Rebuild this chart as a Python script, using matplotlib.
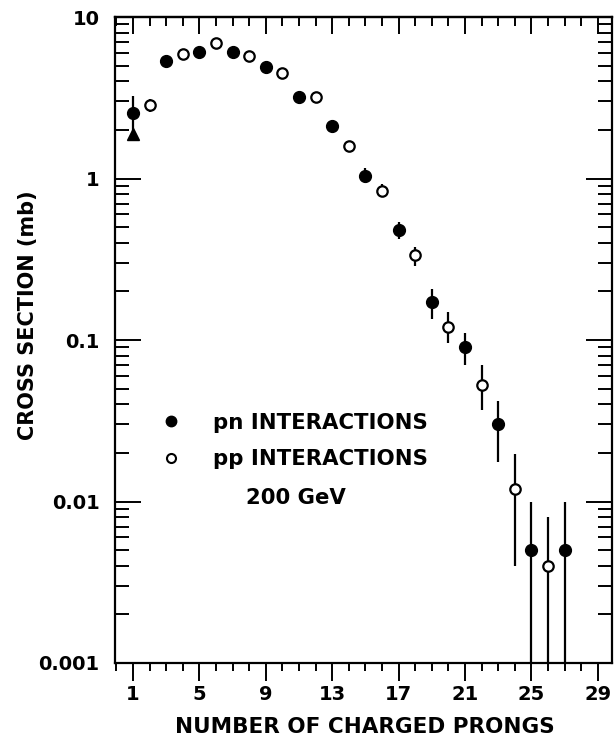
import matplotlib
matplotlib.use("Agg")
import matplotlib.pyplot as plt
from matplotlib.lines import Line2D
from matplotlib.ticker import MultipleLocator, LogLocator, FixedLocator, FixedFormatter, NullFormatter

# pn interactions (filled circles), lower / upper ends of the error bars
pn_prongs = [1, 3, 5, 7, 9, 11, 13, 15, 17, 19, 21, 23, 25, 27]
pn_sigma = [2.55, 5.35, 6.05, 6.05, 4.9, 3.2, 2.1, 1.03, 0.48, 0.172, 0.091, 0.030, 0.005, 0.005]
pn_low = [1.9, 5.35, 6.05, 6.05, 4.9, 3.2, 2.1, 0.94, 0.422, 0.135, 0.070, 0.0176, 0.0001, 0.0001]
pn_high = [3.26, 5.35, 6.05, 6.05, 4.9, 3.2, 2.1, 1.16, 0.538, 0.2055, 0.111, 0.042, 0.01, 0.01]

# pp interactions (open circles)
pp_prongs = [2, 4, 6, 8, 10, 12, 14, 16, 18, 20, 22, 24, 26]
pp_sigma = [2.85, 5.9, 6.9, 5.7, 4.5, 3.2, 1.6, 0.84, 0.336, 0.121, 0.053, 0.012, 0.004]
pp_low = [2.6, 5.9, 6.9, 5.7, 4.5, 3.2, 1.6, 0.77, 0.287, 0.096, 0.037, 0.004, 0.0001]
pp_high = [3.1, 5.9, 6.9, 5.7, 4.5, 3.2, 1.6, 0.925, 0.377, 0.149, 0.070, 0.0197, 0.008]

# single triangle point at 1 prong
tri_prongs = [1]
tri_sigma = [1.9]

x_major = [1, 5, 9, 13, 17, 21, 25, 29]
y_ticks = [0.001, 0.01, 0.1, 1, 10]
y_tick_labels = ["0.001", "0.01", "0.1", "1", "10"]

plt.rcParams["font.family"] = "DejaVu Sans"
plt.rcParams["font.weight"] = "bold"

fig = plt.figure(figsize=(6.16, 7.5), dpi=100)
ax = fig.add_axes([0.1867, 0.116, 0.8068, 0.8613])


def yerr(vals, lo, hi):
    return [[v - l for v, l in zip(vals, lo)], [h - v for v, h in zip(vals, hi)]]


ax.errorbar(pn_prongs, pn_sigma, yerr=yerr(pn_sigma, pn_low, pn_high), fmt="o",
            color="black", ms=8.5, elinewidth=1.6, capsize=0, zorder=3)
ax.errorbar(pp_prongs, pp_sigma, yerr=yerr(pp_sigma, pp_low, pp_high), fmt="o",
            color="black", mfc="white", ms=7.5, mew=1.6, elinewidth=1.6, capsize=0, zorder=3)
ax.plot(tri_prongs, tri_sigma, "^", color="black", ms=8.5, zorder=4)

ax.set_yscale("log")
ax.set_ylim(0.001, 10)
ax.set_xlim(-0.08, 29.85)

for s in ax.spines.values():
    s.set_linewidth(1.6)

# y axis: ticks inside on both sides
ax.yaxis.set_major_locator(FixedLocator(y_ticks))
ax.yaxis.set_major_formatter(FixedFormatter(y_tick_labels))
ax.yaxis.set_minor_locator(LogLocator(base=10, subs=range(2, 10)))
ax.yaxis.set_minor_formatter(NullFormatter())
ax.tick_params(axis="y", which="both", direction="in", left=True, right=True, width=1.4)
ax.tick_params(axis="y", which="major", length=19, pad=11, labelsize=14)
ax.tick_params(axis="y", which="minor", length=10)

# x axis: bottom ticks outside, top ticks inside
ax.xaxis.set_major_locator(FixedLocator(x_major))
ax.xaxis.set_minor_locator(MultipleLocator(1))
ax.tick_params(axis="x", which="both", direction="out", top=False, bottom=True, width=1.4)
ax.tick_params(axis="x", which="major", length=13, pad=3, labelsize=14)
ax.tick_params(axis="x", which="minor", length=6)

top = ax.secondary_xaxis("top")
top.xaxis.set_major_locator(FixedLocator(x_major))
top.xaxis.set_minor_locator(MultipleLocator(1))
top.tick_params(which="both", direction="in", labeltop=False, width=1.4)
top.tick_params(which="major", length=12)
top.tick_params(which="minor", length=6.5)
top.spines["top"].set_linewidth(1.6)

ax.set_xlabel("NUMBER OF CHARGED PRONGS", fontsize=15.5, fontweight="bold")
ax.xaxis.set_label_coords(0.503, -0.083)
ax.set_ylabel("CROSS SECTION (mb)", fontsize=15, fontweight="bold")
ax.yaxis.set_label_coords(-0.155, 0.539)

handles = [
    Line2D([], [], ls="none", marker="o", color="black", ms=7.5),
    Line2D([], [], ls="none", marker="o", color="black", mfc="white", ms=6.5, mew=1.5),
]
ax.legend(handles, ["pn INTERACTIONS", "pp INTERACTIONS"], loc="upper left",
          bbox_to_anchor=(0.0918, 0.3874), frameon=False, borderpad=0, borderaxespad=0,
          handlelength=1.0, handletextpad=1.45, labelspacing=0.77,
          prop={"size": 15.3, "weight": "bold"})
ax.text(0.364, 0.255, "200 GeV", transform=ax.transAxes, ha="center", va="center",
        fontsize=15.3, fontweight="bold")

fig.savefig("out.png", dpi=100)
